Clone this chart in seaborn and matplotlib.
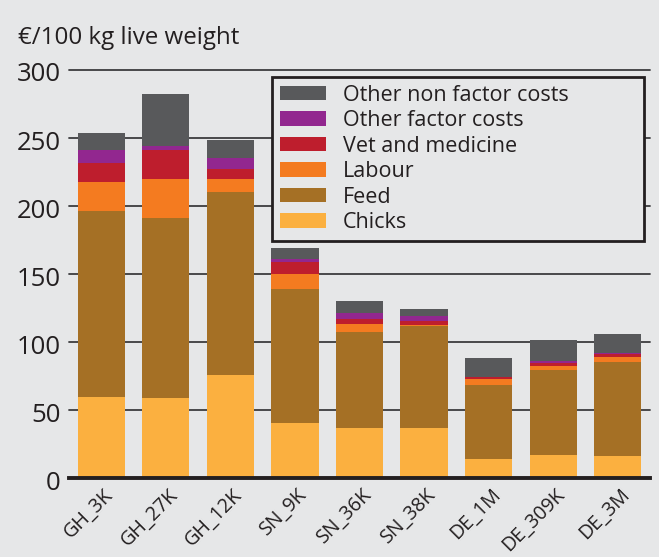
import numpy as np
import pandas as pd
import seaborn as sns
import matplotlib.pyplot as plt
import matplotlib.transforms as mtransforms
from matplotlib.patches import Patch

categories = ['GH_3K', 'GH_27K', 'GH_12K', 'SN_9K', 'SN_36K', 'SN_38K', 'DE_1M', 'DE_309K', 'DE_3M']
chicks = [59.5, 59, 76, 40.5, 37, 37, 14, 17, 16]
feed = [136.5, 132, 134, 98.5, 70, 75, 54.5, 62.5, 69]
labour = [21.5, 29, 10, 11, 6, 0.7, 4.4, 3, 3.7]
vet_medicine = [14, 21, 7, 9, 4, 2.7, 1.2, 2, 2.7]
other_factor = [10, 3, 8, 2, 4.5, 3.6, 0.5, 1.7, 0.2]
other_non_factor = [12, 38, 13.5, 8, 8.5, 5.3, 14, 15.5, 14]

series_names = ['Chicks', 'Feed', 'Labour', 'Vet and medicine', 'Other factor costs', 'Other non factor costs']
series_vals = [chicks, feed, labour, vet_medicine, other_factor, other_non_factor]
colors = ['#fbb040', '#a57025', '#f47b20', '#be1e2d', '#92278f', '#58595b']
bg = '#e6e7e8'
dark = '#231f20'

sns.set_theme(style='white')
plt.rcParams['font.family'] = ['Open Sans', 'DejaVu Sans']
plt.rcParams['text.color'] = dark

fig = plt.figure(figsize=(6.59, 5.57), dpi=100, facecolor=bg)
ax = fig.add_axes([69 / 659, 1 - 478 / 557, 581 / 659, 408 / 557])
ax.set_facecolor(bg)

cum = np.cumsum(np.array(series_vals, dtype=float), axis=0)
for i in range(len(series_names) - 1, -1, -1):
    df = pd.DataFrame({'cat': categories, 'val': cum[i]})
    sns.barplot(data=df, x='cat', y='val', order=categories, color=colors[i],
                saturation=1, width=0.73, errorbar=None, ax=ax, zorder=3,
                edgecolor='none', linewidth=0)

for yv in [50, 100, 150, 200, 250, 300]:
    ax.axhline(yv, color='#3c3c3e', lw=1.3, zorder=1, clip_on=False)

ax.set_xlim(-0.5, 8.5)
ax.set_ylim(0, 300)
ax.set_yticks([0, 50, 100, 150, 200, 250, 300])
ax.set_xticks(range(len(categories)))
ax.set_xticklabels(categories, rotation=45, ha='right', va='baseline',
                   rotation_mode='anchor', fontsize=14.2, color=dark)
ax.set_xlabel('')
ax.set_ylabel('')
for s in ['top', 'right', 'left']:
    ax.spines[s].set_visible(False)
ax.spines['bottom'].set_color(dark)
ax.spines['bottom'].set_linewidth(2.8)
ax.spines['bottom'].set_zorder(5)
ax.tick_params(axis='y', length=0, pad=6, labelsize=18.5, labelcolor=dark)
ax.tick_params(axis='x', length=0, pad=12.5)
offset = mtransforms.ScaledTranslation(0.125, 0, fig.dpi_scale_trans)
for lab in ax.get_xticklabels():
    lab.set_transform(lab.get_transform() + offset)
yoffset = mtransforms.ScaledTranslation(0, -0.02, fig.dpi_scale_trans)
for lab in ax.get_yticklabels():
    lab.set_transform(lab.get_transform() + yoffset)

fig.text(18 / 659, 1 - 44 / 557, '€/100 kg live weight', fontsize=17.4, color=dark,
         ha='left', va='baseline')

handles = [Patch(facecolor=colors[i], edgecolor='none', label=series_names[i])
           for i in range(len(series_names) - 1, -1, -1)]
leg_x0, leg_x1, leg_top = 272, 644, 77
leg = ax.legend(handles=handles, loc='upper left', mode='expand',
                bbox_to_anchor=(leg_x0 / 659, 1 - leg_top / 557 - 0.1, (leg_x1 - leg_x0) / 659, 0.1),
                bbox_transform=fig.transFigure,
                borderaxespad=0, fontsize=15.5, handlelength=2.14, handleheight=0.68,
                handletextpad=0.8, labelspacing=0.21, borderpad=0.35,
                frameon=True, fancybox=False, framealpha=1, facecolor=bg, edgecolor=dark)
leg.get_frame().set_linewidth(2)
leg.set_zorder(6)

fig.savefig('out.png', dpi=100, facecolor=bg)
